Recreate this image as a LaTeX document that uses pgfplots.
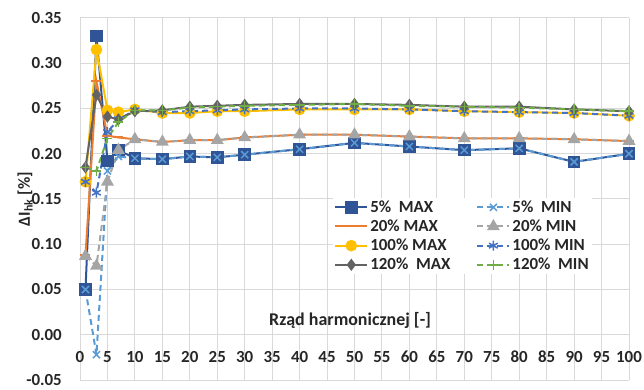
\documentclass[border=0pt]{standalone}
\usepackage{fontspec}
\setmainfont{Carlito}
\usepackage{pgfplots}
\usepackage{pgfplotstable}
\pgfplotsset{compat=1.18}

\definecolor{c5max}{RGB}{47,85,151}
\definecolor{c5min}{RGB}{91,155,213}
\definecolor{c20max}{RGB}{237,125,49}
\definecolor{c20min}{RGB}{165,165,165}
\definecolor{c100max}{RGB}{255,192,0}
\definecolor{c100min}{RGB}{68,114,196}
\definecolor{c120max}{RGB}{99,99,99}
\definecolor{c120min}{RGB}{112,173,71}
\definecolor{gridc}{RGB}{217,217,217}

\pgfplotstableread{
x    a5max  a5min   a20max a20min a100max a100min a120max a120min
1    0.050  0.050   0.088  0.087  0.169  0.169  0.185  0.185
3    0.330  -0.022  0.280  0.076  0.315  0.157  0.265  0.181
5    0.192  0.181   0.220  0.169  0.248  0.224  0.241  0.217
7    0.204  0.197   0.218  0.204  0.246  0.238  0.238  0.235
10   0.195  0.195   0.216  0.216  0.249  0.248  0.247  0.248
15   0.194  0.194   0.213  0.213  0.245  0.246  0.248  0.248
20   0.197  0.197   0.215  0.215  0.245  0.247  0.252  0.251
25   0.196  0.196   0.215  0.215  0.247  0.248  0.253  0.252
30   0.199  0.199   0.218  0.218  0.247  0.249  0.254  0.253
40   0.205  0.205   0.221  0.221  0.249  0.250  0.255  0.254
50   0.212  0.212   0.221  0.221  0.249  0.250  0.255  0.255
60   0.208  0.208   0.219  0.219  0.249  0.249  0.254  0.253
70   0.204  0.204   0.217  0.217  0.247  0.247  0.252  0.252
80   0.206  0.206   0.217  0.217  0.246  0.246  0.252  0.251
90   0.191  0.191   0.216  0.216  0.245  0.245  0.249  0.249
100  0.200  0.200   0.214  0.214  0.242  0.242  0.247  0.247
}\data

\begin{document}
\begin{tikzpicture}
\begin{axis}[
  scale only axis, width=549bp, height=362bp,
  xmin=0, xmax=100, ymin=-0.05, ymax=0.35,
  xtick={0,5,...,100},
  ytick={-0.05,0,0.05,0.1,0.15,0.2,0.25,0.3,0.35},
  grid=major,
  major grid style={gridc, line width=1bp},
  extra y ticks={0}, extra y tick labels={},
  extra y tick style={grid style={color=black!30, line width=1.2bp}},
  axis line style={draw=none},
  major tick length=0pt,
  tick label style={font=\bfseries\fontsize{17}{20}\selectfont, text=black!85},
  /pgf/number format/assume math mode=true,
  yticklabel style={/pgf/number format/fixed, /pgf/number format/fixed zerofill, /pgf/number format/precision=2},
  yticklabel style={anchor=east, inner sep=0pt, xshift=-18bp},
  xticklabel style={anchor=center, inner sep=0pt, yshift=23bp},
  ylabel={ΔI\textsubscript{hk} [\%]},
  ylabel style={at={(axis description cs:-0.1,0.5)}, anchor=center, font=\bfseries\fontsize{17}{20}\selectfont, text=black!85},
  xlabel={Rząd harmonicznej [-]},
  xlabel style={at={(axis description cs:0.492,0.165)}, anchor=center, font=\bfseries\fontsize{18}{21}\selectfont, text=black!85},
  legend columns=2,
  legend cell align=left,
  legend style={at={(0.461,0.504)}, anchor=north west, fill=white, draw=none,
    font=\bfseries\fontsize{17}{20}\selectfont, text=black!85, inner sep=1bp,
    row sep=2bp,
    /tikz/every even column/.append style={column sep=24bp}},
  legend image code/.code={\draw[mark repeat=2,mark phase=2] plot coordinates {(0bp,0bp) (16bp,0bp) (32bp,0bp)};},
]
\addplot[c5max, line width=2bp, mark=square*, mark size=5.3bp, mark options={solid, fill=c5max}] table[x=x,y=a5max]{\data};
\addlegendentry{5\%~~MAX}
\addplot[c5min, line width=2bp, dash pattern=on 6bp off 4bp, mark=x, mark size=5bp, mark options={solid, line width=1.5bp}] table[x=x,y=a5min]{\data};
\addlegendentry{5\%~~MIN}
\addplot[c20max, line width=2bp, mark=-, mark size=5bp, mark options={solid}] table[x=x,y=a20max]{\data};
\addlegendentry{20\% MAX}
\addplot[c20min, line width=2bp, dash pattern=on 6bp off 4bp, mark=triangle*, mark size=5.5bp, mark options={solid, fill=c20min}] table[x=x,y=a20min]{\data};
\addlegendentry{20\% MIN}
\addplot[c100max, line width=2bp, mark=*, mark size=4.8bp, mark options={solid, fill=c100max}] table[x=x,y=a100max]{\data};
\addlegendentry{100\% MAX}
\addplot[c100min, line width=2bp, dash pattern=on 6bp off 4bp, mark=asterisk, mark size=5bp, mark options={solid, line width=1.5bp}] table[x=x,y=a100min]{\data};
\addlegendentry{100\% MIN}
\addplot[c120max, line width=2bp, mark=diamond*, mark size=4.5bp, mark options={solid, fill=c120max}] table[x=x,y=a120max]{\data};
\addlegendentry{120\%~~MAX}
\addplot[c120min, line width=2bp, dash pattern=on 6bp off 4bp, mark=+, mark size=5bp, mark options={solid, line width=1.5bp}] table[x=x,y=a120min]{\data};
\addlegendentry{120\%~~MIN}
\coordinate (sw) at (rel axis cs:0,0);
\coordinate (ne) at (rel axis cs:1,1);
\end{axis}
\pgfresetboundingbox
\path[use as bounding box] ([shift={(-80bp,-10bp)}]sw) rectangle ([shift={(15bp,18bp)}]ne);
\end{tikzpicture}
\end{document}
